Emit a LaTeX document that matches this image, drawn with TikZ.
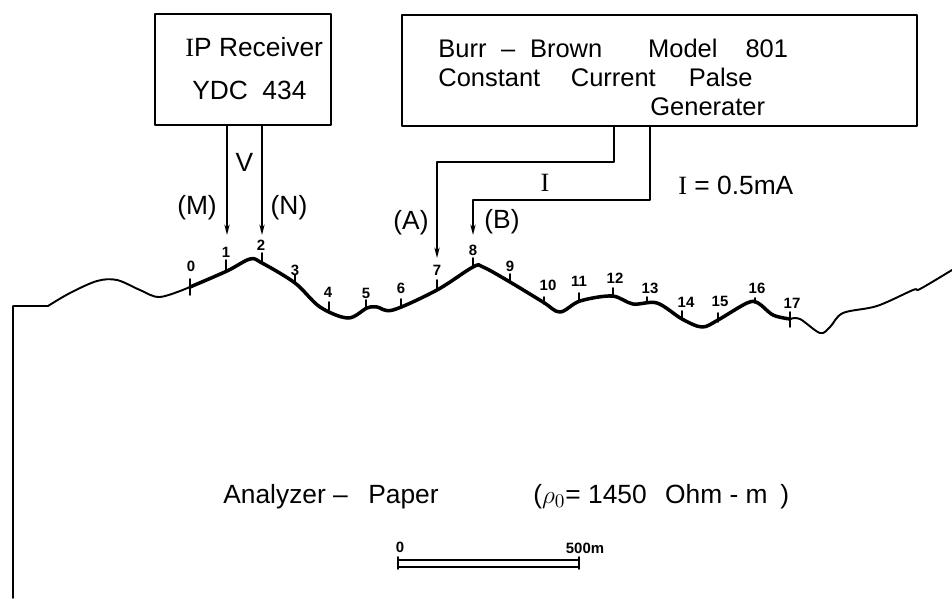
\documentclass[tikz,border=0pt]{standalone}
\usepackage{fontspec}
\usetikzlibrary{arrows.meta}
\setmainfont{Liberation Sans}
\newfontfamily\serifletter{Liberation Serif}
\newcommand{\bigI}{{\serifletter I}}
\tikzset{
	unitbox/.style={draw,line width=1.1pt,inner sep=0pt},
	lbl/.style={inner sep=0pt,font=\fontsize{15}{17}\selectfont},
	boxlbl/.style={inner sep=0pt,anchor=west,font=\fontsize{14.5}{17}\selectfont},
	ticklbl/.style={inner sep=0pt,font=\fontsize{8.5}{10}\selectfont\bfseries},
	wire/.style={line width=0.9pt},
}
\begin{document}
\begin{tikzpicture}[line cap=round,line join=round,>={Stealth[length=6pt,width=3pt]},x=0.02cm,y=-0.02cm]
	\useasboundingbox (0,0) rectangle (952,598);
	% instruments
	\node[unitbox,minimum width=3.52cm,minimum height=2.22cm] (receiver) at (243,69.5) {};
	\node[unitbox,minimum width=10.3cm,minimum height=2.22cm] (generator) at (659.5,70.5) {};
	\node[lbl,anchor=west] (rxa) at (185,47) {\bigI P  Receiver};
	\node[lbl,anchor=west] (rxb) at (192,90) {YDC\hspace{0.55em}434};
	\node[boxlbl] (gena) at (438,48) {Burr\hspace{0.3em} -- \hspace{0.3em}Brown\hspace{1.8em}Model\hspace{1.1em}801};
	\node[boxlbl] (genb) at (438,77) {Constant\hspace{1.2em}Current\hspace{1.3em}Palse};
	\node[boxlbl] (genc) at (650,107) {Generater};
	% ground surface
	\draw[line width=1.1pt] (13,598)--(13,306)--(48,306) plot[smooth,tension=0.55] coordinates {(48,306)(70,293)(97,281)(117,280)(140,290)(160,297)(190,287)};
	\draw[line width=2pt] plot[smooth,tension=0.55] coordinates {(190,287)(227,271)(250,259)(262,263)(295,283)(320,307)(348,318)(367,308)(377,307)(393,310)(437,290)(473,267)(483,267)(510,282)(543,302)(560,312)(580,301)(612,296)(633,304)(657,303)(682,319)(702,327)(718,320)(747,303)(758,303)(773,315)(790,319)};
	\draw[line width=1.1pt] plot[smooth,tension=0.55] coordinates {(790,319)(800,319)(820,333)(830,327)(843,313)(877,306)(913,290)(920,289)(952,270)};
	% stations
	\foreach \tx/\ttop/\tbot/\lx/\ly/\lab in {190/279/295/191/266/0,226/260/272/226/252/1,262/253/262/261/245/2,295/275/283/295/270/3,329/302/310/328/292/4,366/300/309/366/293/5,401/299/308/401/288/6,437/280/290/437/270/7,473/258/267/473/250/8,510/274/282/510/266/9,544/297/304/548/285/10,579/293/302/579/281/11,613/288/297/615/278/12,647/297/303/650/288/13,682/311/320/686/302/14,718/313/322/720/301/15,755/298/303/757/288/16,790/312/327/792/303/17}
	{
		\draw[line width=1pt] (\tx,\ttop)--(\tx,\tbot);
		\node[ticklbl] (st\lab) at (\lx,\ly) {\lab};
	}
	% potential leads
	\coordinate (m) at (227,235);
	\coordinate (n) at (262,235);
	\draw[wire,->] (receiver.south -| m)--(m);
	\draw[wire,->] (receiver.south -| n)--(n);
	\node[lbl] (vlab) at (244.5,162) {V};
	\node[lbl] (mlab) at (197,208) {(M)};
	\node[lbl] (nlab) at (289,208) {(N)};
	% current leads
	\coordinate (a) at (437,258);
	\coordinate (b) at (473,235);
	\draw[wire,->] (generator.south -| 614,0)--(614,162)--(437,162)--(a);
	\draw[wire,->] (generator.south -| 650,0)--(650,200)--(473,200)--(b);
	\node[lbl] (alab) at (411,223) {(A)};
	\node[lbl] (blab) at (502,222) {(B)};
	\node[lbl] (ilab) at (545,183) {\bigI};
	\node[lbl,anchor=west] (ival) at (678,185) {\bigI\ = 0.5mA};
	% captions
	\node[lbl,anchor=west] (title) at (223,497) {Analyzer -- \hspace{0.5em}Paper};
	\node[lbl,anchor=west] (rho) at (533,497) {($\rho_{0}$= 1450\hspace{0.7em}Ohm - m\hspace{0.2em} )};
	% scale bar
	\draw[line width=1pt] (398,557)--(398,569) (579,557)--(579,569);
	\draw[line width=0.8pt] (398,560)--(579,560) (398,567)--(579,567);
	\node[ticklbl] (sc0) at (400,547) {0};
	\node[ticklbl] (sc5) at (585,548) {500m};
\end{tikzpicture}
\end{document}
